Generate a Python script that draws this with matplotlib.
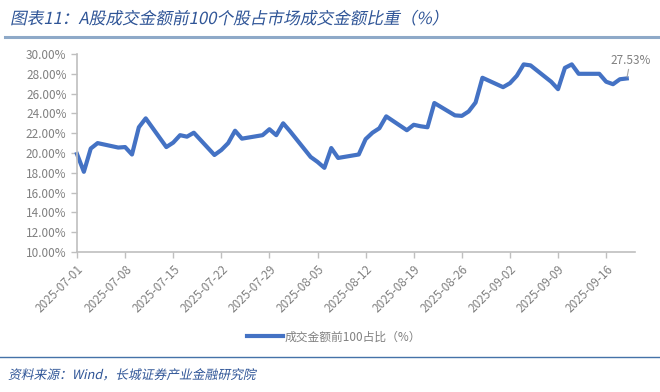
import numpy as np
import pandas as pd
import matplotlib
matplotlib.use('Agg')
import matplotlib.pyplot as plt
import matplotlib.dates as mdates
import matplotlib.transforms as mtransforms
from matplotlib.ticker import FuncFormatter
from matplotlib.textpath import TextPath
from matplotlib.patches import PathPatch
from matplotlib.font_manager import FontProperties

plt.rcParams['font.family'] = ['Noto Sans CJK SC', 'DejaVu Sans']

# 交易日
dates = pd.bdate_range('2025-07-01', '2025-09-19')
# 成交金额前100占比（%）
values = [
    19.9, 18.1, 20.45, 21.0, 20.55, 20.6, 19.85, 22.6, 23.5, 20.6,
    21.05, 21.8, 21.65, 22.05, 19.8, 20.3, 21.0, 22.25, 21.45, 21.8,
    22.4, 21.8, 23.0, 22.2, 19.6, 19.1, 18.5, 20.5, 19.5, 19.85,
    21.4, 22.05, 22.5, 23.7, 22.3, 22.85, 22.7, 22.6, 25.05, 23.8,
    23.75, 24.2, 25.1, 27.6, 26.65, 27.05, 27.8, 28.95, 28.85, 27.2,
    26.45, 28.6, 28.95, 28.0, 28.0, 27.2, 26.95, 27.45, 27.53,
]
tick_dates = pd.date_range('2025-07-01', '2025-09-16', freq='7D')
series_name = '成交金额前100占比（%）'
title = '图表11：A股成交金额前100个股占市场成交金额比重（%）'
source = '资料来源：Wind，长城证券产业金融研究院'

blue = '#4472C4'
grey = '#808080'
axis_grey = '#BFBFBF'
title_blue = '#2F5597'


def italic_text(fig, x_px, y_px, s, size_pt, color):
    # CJK 字体没有斜体，用错切变换模拟
    fp = FontProperties(family='Noto Sans CJK SC')
    path = TextPath((0, 0), s, size=size_pt * 100 / 72, prop=fp)
    tr = mtransforms.Affine2D().skew_deg(12, 0).translate(x_px, y_px)
    fig.add_artist(PathPatch(path, transform=tr, facecolor=color, edgecolor='none'))


fig = plt.figure(figsize=(6.6, 3.92), dpi=100)
ax = fig.add_axes([77 / 660, 1 - 252 / 392, (635 - 77) / 660, (252 - 54) / 392])

ax.plot(dates, values, color=blue, lw=3.0, label=series_name, clip_on=False)

ax.set_ylim(10, 30)
ax.set_yticks(np.arange(10, 31, 2))
ax.yaxis.set_major_formatter(FuncFormatter(lambda v, p: '%.2f%%' % v))
ax.set_xlim(pd.Timestamp('2025-07-01'), pd.Timestamp('2025-07-01') + pd.Timedelta(days=81.2))
ax.set_xticks(tick_dates)
ax.xaxis.set_major_formatter(mdates.DateFormatter('%Y-%m-%d'))
plt.setp(ax.get_xticklabels(), rotation=45, ha='right', rotation_mode='anchor')

for s in ['top', 'right']:
    ax.spines[s].set_visible(False)
for s in ['left', 'bottom']:
    ax.spines[s].set_color(axis_grey)
    ax.spines[s].set_linewidth(1.2)
ax.tick_params(colors=axis_grey, labelcolor=grey, labelsize=8.5, length=4, width=1)

# 最新值标注
last_x = dates[-1]
last_y = values[-1]
ax.annotate('%.2f%%' % last_y, xy=(last_x, last_y), xytext=(last_x - pd.Timedelta(days=2.4), last_y + 1.2),
            color=grey, fontsize=8.5, ha='left', va='bottom',
            arrowprops=dict(arrowstyle='-', color='#A6A6A6', lw=0.8, shrinkA=0, shrinkB=1))

fig.legend(loc='center', bbox_to_anchor=(334 / 660, 1 - 337 / 392), frameon=False,
           fontsize=8.5, handlelength=3.0, handletextpad=0.1, labelcolor=grey)

# 标题与来源
italic_text(fig, 10, 368, title, 12, title_blue)
fig.add_artist(plt.Line2D([5 / 660, 1], [1 - 37 / 392] * 2, color='#8EA9C8', lw=2.2))
fig.add_artist(plt.Line2D([0, 1], [1 - 357 / 392] * 2, color='#4472A8', lw=1.0))
italic_text(fig, 8, 13, source, 9.2, title_blue)

fig.savefig('out.png', dpi=100)
